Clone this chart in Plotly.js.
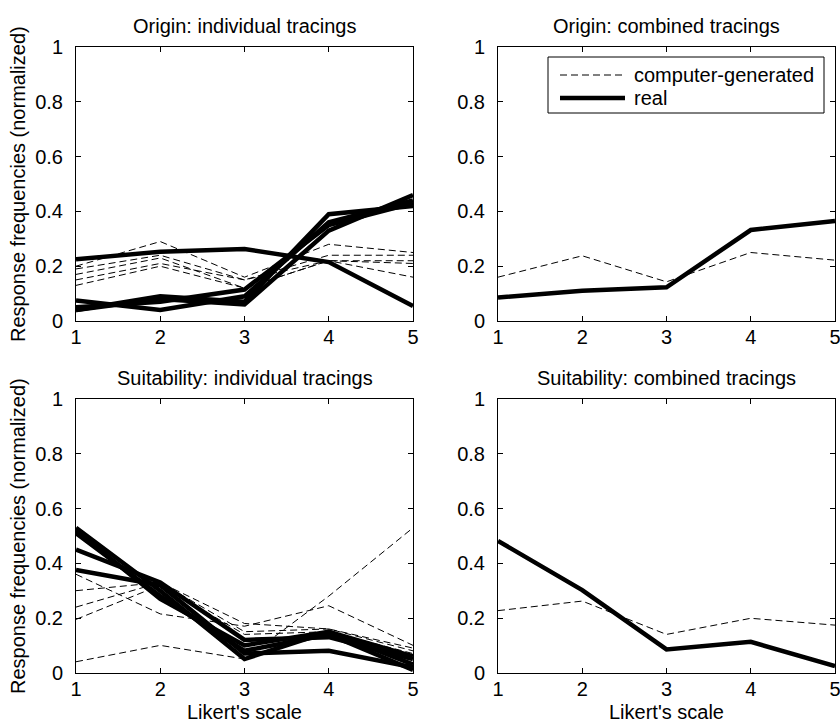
<!DOCTYPE html>
<html>
<head>
<meta charset="utf-8">
<script src="https://cdn.plot.ly/plotly-3.0.1.min.js"></script>
<style>
  html, body { margin: 0; padding: 0; background: #fff; }
  #chart { width: 840px; height: 724px; }
</style>
</head>
<body>
<div id="chart"></div>
<script>
// Likert scale points shared by every panel
const likert = [1, 2, 3, 4, 5];

// Origin: individual tracings
const originCG = [
  [0.20, 0.29, 0.16, 0.28, 0.25],
  [0.19, 0.24, 0.15, 0.24, 0.24],
  [0.17, 0.23, 0.12, 0.22, 0.21],
  [0.15, 0.21, 0.15, 0.22, 0.16],
  [0.13, 0.20, 0.12, 0.22, 0.22]
];
const originReal = [
  [0.225, 0.253, 0.263, 0.215, 0.055],
  [0.075, 0.040, 0.090, 0.360, 0.440],
  [0.040, 0.090, 0.070, 0.390, 0.420],
  [0.040, 0.080, 0.060, 0.330, 0.460],
  [0.050, 0.070, 0.115, 0.350, 0.430]
];

// Origin: combined tracings
const originCombinedCG = [0.16, 0.238, 0.143, 0.25, 0.222];
const originCombinedReal = [0.086, 0.11, 0.123, 0.332, 0.365];

// Suitability: individual tracings
const suitCG = [
  [0.04, 0.10, 0.05, 0.28, 0.53],
  [0.36, 0.215, 0.17, 0.245, 0.10],
  [0.30, 0.33, 0.18, 0.16, 0.09],
  [0.24, 0.33, 0.15, 0.16, 0.08],
  [0.195, 0.32, 0.14, 0.15, 0.07]
];
const suitReal = [
  [0.53, 0.30, 0.05, 0.15, 0.03],
  [0.51, 0.28, 0.08, 0.14, 0.01],
  [0.45, 0.33, 0.12, 0.13, 0.05],
  [0.376, 0.32, 0.07, 0.08, 0.02],
  [0.52, 0.27, 0.10, 0.15, 0.06]
];

// Suitability: combined tracings
const suitCombinedCG = [0.227, 0.262, 0.14, 0.199, 0.174];
const suitCombinedReal = [0.482, 0.302, 0.085, 0.113, 0.024];

const yTicks = [0, 0.2, 0.4, 0.6, 0.8, 1];
const yTickText = ['0', '0.2', '0.4', '0.6', '0.8', '1'];
const legendNames = ['computer-generated', 'real'];

const FONT = 'Liberation Sans, Arial, Helvetica, sans-serif';
const FS = 20;
const DASH = '7px,4px';
const dashedLine = { color: '#000', width: 1, dash: DASH };
const solidLine = { color: '#000', width: 4.5 };

const traces = [];
function addLine(y, xa, ya, line, name) {
  traces.push({
    type: 'scatter', mode: 'lines', x: likert, y: y,
    xaxis: xa, yaxis: ya, line: line, name: name,
    showlegend: false, hoverinfo: 'skip'
  });
}

originCG.forEach(s => addLine(s, 'x', 'y', dashedLine, legendNames[0]));
originReal.forEach(s => addLine(s, 'x', 'y', solidLine, legendNames[1]));
addLine(originCombinedCG, 'x2', 'y2', dashedLine, legendNames[0]);
addLine(originCombinedReal, 'x2', 'y2', solidLine, legendNames[1]);
suitCG.forEach(s => addLine(s, 'x3', 'y3', dashedLine, legendNames[0]));
suitReal.forEach(s => addLine(s, 'x3', 'y3', solidLine, legendNames[1]));
addLine(suitCombinedCG, 'x4', 'y4', dashedLine, legendNames[0]);
addLine(suitCombinedReal, 'x4', 'y4', solidLine, legendNames[1]);

const W = 840, H = 724;
const colL = [76 / W, 413 / W];
const colR = [498 / W, 835 / W];
const rowT = [1 - 321 / H, 1 - 47 / H];
const rowB = [1 - 672.7 / H, 1 - 399.3 / H];

function xAxis(domain, anchor) {
  return {
    domain: domain, anchor: anchor, range: [1, 5],
    tickvals: likert, ticktext: likert.map(String),
    ticks: 'inside', ticklen: 5, tickcolor: '#000', tickwidth: 1,
    showline: true, linecolor: '#000', linewidth: 1, mirror: 'ticks',
    showgrid: false, zeroline: false, fixedrange: true,
    ticklabeloverflow: 'allow', ticklabelstandoff: -2,
    tickfont: { family: FONT, size: FS, color: '#000' }
  };
}
function yAxis(domain, anchor) {
  return {
    domain: domain, anchor: anchor, range: [0, 1],
    tickvals: yTicks, ticktext: yTickText,
    ticks: 'inside', ticklen: 5, tickcolor: '#000', tickwidth: 1,
    showline: true, linecolor: '#000', linewidth: 1, mirror: 'ticks',
    showgrid: false, zeroline: false, fixedrange: true,
    ticklabeloverflow: 'allow', ticklabelstandoff: 8,
    tickfont: { family: FONT, size: FS, color: '#000' }
  };
}

// helpers working in pixel positions of the 840x724 page
const px = v => v / W;
const py = v => 1 - v / H;

function label(text, x, y, opts) {
  return Object.assign({
    text: text, xref: 'paper', yref: 'paper',
    x: px(x), y: py(y), showarrow: false,
    xanchor: 'center', yanchor: 'middle',
    font: { family: FONT, size: FS, color: '#000' }
  }, opts || {});
}

// legend box inside the "Origin: combined tracings" panel
const legendBox = { x0: 548, x1: 824, y0: 57, y1: 113 };
const legendRows = [75, 98];
const legendShapes = [
  { type: 'rect', xref: 'paper', yref: 'paper',
    x0: px(legendBox.x0), x1: px(legendBox.x1), y0: py(legendBox.y1), y1: py(legendBox.y0),
    line: { color: '#000', width: 1 }, fillcolor: '#fff', layer: 'above' },
  { type: 'line', xref: 'paper', yref: 'paper',
    x0: px(560), x1: px(625), y0: py(legendRows[0]), y1: py(legendRows[0]),
    line: dashedLine, layer: 'above' },
  { type: 'line', xref: 'paper', yref: 'paper',
    x0: px(560), x1: px(625), y0: py(legendRows[1]), y1: py(legendRows[1]),
    line: solidLine, layer: 'above' }
];
const legendLabels = legendNames.map((n, i) =>
  label(n, 632, legendRows[i], { xanchor: 'left' }));

const layout = {
  width: W, height: H,
  margin: { l: 0, r: 0, t: 0, b: 0 },
  paper_bgcolor: '#fff', plot_bgcolor: '#fff',
  font: { family: FONT, size: FS, color: '#000' },
  xaxis: xAxis(colL, 'y'), yaxis: yAxis(rowT, 'x'),
  xaxis2: xAxis(colR, 'y2'), yaxis2: yAxis(rowT, 'x2'),
  xaxis3: xAxis(colL, 'y3'), yaxis3: yAxis(rowB, 'x3'),
  xaxis4: xAxis(colR, 'y4'), yaxis4: yAxis(rowB, 'x4'),
  showlegend: false,
  shapes: legendShapes,
  annotations: [
    label('Origin: individual tracings', 244.5, 26),
    label('Origin: combined tracings', 666.5, 26),
    label('Suitability: individual tracings', 244.5, 378),
    label('Suitability: combined tracings', 666.5, 378),
    label('Likert\'s scale', 244.5, 712),
    label('Likert\'s scale', 666.5, 712),
    label('Response frequencies (normalized)', 18, 184, { textangle: -90 }),
    label('Response frequencies (normalized)', 18, 536, { textangle: -90 })
  ].concat(legendLabels)
};

Plotly.newPlot('chart', traces, layout, { staticPlot: true, displayModeBar: false });
</script>
</body>
</html>
